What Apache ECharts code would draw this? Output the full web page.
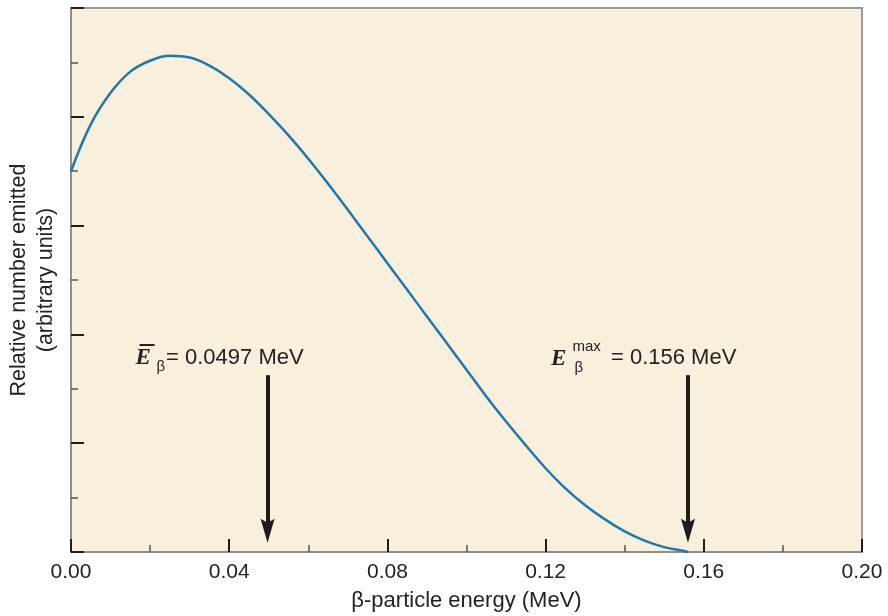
<!DOCTYPE html>
<html>
<head>
<meta charset="utf-8">
<title>Beta spectrum</title>
<script src="https://cdn.jsdelivr.net/npm/echarts@6/dist/echarts.min.js"></script>
<style>
  html, body { margin: 0; padding: 0; background: #ffffff; }
  #chart { width: 888px; height: 616px; }
</style>
</head>
<body>
<div id="chart"></div>
<script>
// Beta-particle energy (MeV) and relative number emitted (arbitrary units)
var energy = [0, 0.005, 0.010, 0.015, 0.020, 0.025, 0.030, 0.035, 0.040, 0.045,
              0.050, 0.055, 0.060, 0.065, 0.070, 0.075, 0.080, 0.085, 0.090, 0.095,
              0.100, 0.105, 0.110, 0.115, 0.120, 0.125, 0.130, 0.135, 0.140, 0.145,
              0.150, 0.155, 0.156];
var counts = [7.00, 7.86, 8.44, 8.83, 9.03, 9.12, 9.09, 8.94, 8.71, 8.41,
              8.05, 7.66, 7.23, 6.77, 6.29, 5.80, 5.31, 4.82, 4.33, 3.84,
              3.35, 2.86, 2.40, 1.96, 1.54, 1.17, 0.86, 0.60, 0.38, 0.21,
              0.09, 0.02, 0];

// Marked energies
var meanEnergy = 0.0497;
var maxEnergy = 0.156;
// Arrow extent in y units (top of shaft, end point of shaft)
var arrowTop = 3.25;
var arrowEnd = 0.39;

var SANS = '"Liberation Sans", Arial, Helvetica, sans-serif';
var SERIF = '"Liberation Serif", "Times New Roman", serif';
var INK = '#222222';

var chart = echarts.init(document.getElementById('chart'), null, { renderer: 'canvas' });

var seriesData = energy.map(function (e, i) { return [e, counts[i]]; });

var arrowHead = 'path://M7,0 L14,24 L7,20 L0,24 Z';

chart.setOption({
  animation: false,
  backgroundColor: '#ffffff',
  grid: {
    left: 71, right: 26, top: 8, bottom: 64,
    containLabel: false,
    outerBoundsMode: 'none',
    show: true,
    backgroundColor: '#F8EFDC',
    borderColor: '#9a9a9a',
    borderWidth: 2
  },
  xAxis: {
    type: 'value',
    min: 0, max: 0.2, interval: 0.04,
    name: 'β-particle energy (MeV)',
    nameLocation: 'middle',
    nameGap: 38,
    nameTextStyle: { fontSize: 22, color: INK, fontFamily: SANS },
    axisLine: { show: true, lineStyle: { color: '#8e8e8e', width: 2 } },
    axisTick: { show: true, inside: true, length: 13, lineStyle: { color: '#1e1e1e', width: 2 } },
    minorTick: { show: true, splitNumber: 2, length: 7, lineStyle: { color: '#555555', width: 1.5 } },
    splitLine: { show: false },
    minorSplitLine: { show: false },
    axisLabel: {
      fontSize: 21, color: INK, fontFamily: SANS, margin: 10,
      formatter: function (v) { return v.toFixed(2); }
    }
  },
  yAxis: {
    type: 'value',
    min: 0, max: 10, interval: 2,
    name: 'Relative number emitted\n(arbitrary units)',
    nameLocation: 'middle',
    nameRotate: 90,
    nameGap: 11,
    nameTextStyle: { fontSize: 21.5, color: INK, fontFamily: SANS, lineHeight: 27, align: 'center' },
    axisLine: { show: true, lineStyle: { color: '#8e8e8e', width: 2 } },
    axisTick: { show: true, inside: true, length: 13, lineStyle: { color: '#1e1e1e', width: 2 } },
    minorTick: { show: true, splitNumber: 2, length: 7, lineStyle: { color: '#555555', width: 1.5 } },
    splitLine: { show: false },
    minorSplitLine: { show: false },
    axisLabel: { show: false }
  },
  series: [{
    type: 'line',
    data: seriesData,
    smooth: 0.4,
    showSymbol: false,
    silent: true,
    lineStyle: { color: '#2277A8', width: 2.5 },
    markLine: {
      silent: true,
      symbol: ['none', arrowHead],
      symbolSize: 24,
      symbolKeepAspect: true,
      label: { show: false },
      lineStyle: { color: '#1c1c1c', width: 4, type: 'solid' },
      data: [
        [{ coord: [meanEnergy, arrowTop] }, { coord: [meanEnergy, arrowEnd] }],
        [{ coord: [maxEnergy, arrowTop] }, { coord: [maxEnergy, arrowEnd] }]
      ]
    }
  }]
});

// Annotation text placed relative to each arrow's pixel position
function px(x, y) { return chart.convertToPixel({ seriesIndex: 0 }, [x, y]); }
var a1 = px(meanEnergy, arrowTop);
var a2 = px(maxEnergy, arrowTop);

function txt(x, y, text, size, family, style, weight) {
  return {
    type: 'text', x: x, y: y, silent: true,
    style: {
      text: text, fill: INK, fontSize: size, fontFamily: family,
      fontStyle: style || 'normal', fontWeight: weight || 'normal',
      align: 'left', verticalAlign: 'middle'
    }
  };
}

var cy = 358;
chart.setOption({
  graphic: [
    txt(a1[0] - 132, cy, 'E', 23, SERIF, 'italic', 'bold'),
    // overbar of the mean-energy symbol
    {
      type: 'rect', silent: true,
      shape: { x: a1[0] - 128, y: cy - 14, width: 15, height: 2 },
      style: { fill: INK }
    },
    txt(a1[0] - 111, cy + 9, 'β', 15, SANS),
    txt(a1[0] - 101.5, cy, '= 0.0497 MeV', 22, SANS),

    txt(a2[0] - 137, cy + 1, 'E', 23, SERIF, 'italic', 'bold'),
    txt(a2[0] - 115.5, cy - 11, 'max', 15, SANS),
    txt(a2[0] - 113.5, cy + 10, 'β', 15, SANS),
    txt(a2[0] - 77, cy, '= 0.156 MeV', 22, SANS)
  ]
});
</script>
</body>
</html>
